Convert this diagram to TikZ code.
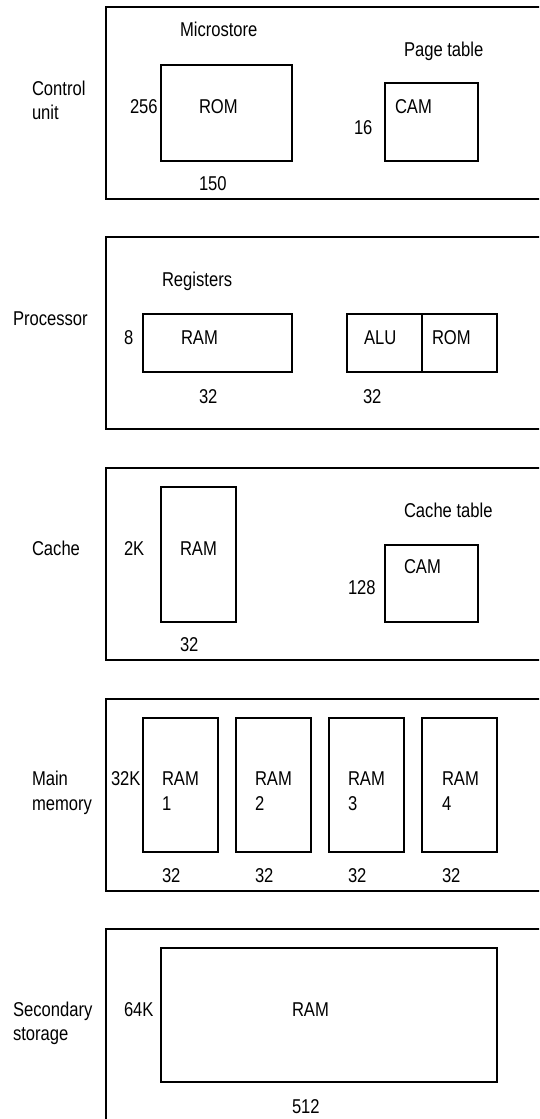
\documentclass[tikz,border=0pt]{standalone}
\usepackage{fontspec}
\setmainfont{Liberation Sans}[FakeStretch=0.83]
\begin{document}
\begin{tikzpicture}[x=1pt,y=-1pt,
  outerbox/.style={draw=black,line width=1.8pt,inner sep=0pt,outer sep=0pt,anchor=north west},
  box/.style={draw=black,line width=1.4pt,inner sep=0pt,outer sep=0pt,anchor=north west},
  lbl/.style={inner sep=0pt,outer sep=0pt,anchor=base west,font=\fontsize{20}{24}\selectfont}]
\fill[white] (0,0) rectangle (539,1119);
\clip (0,0) rectangle (539,1119);
% ---------- Control unit ----------
\node[outerbox,minimum width=480pt,minimum height=192pt] (cu) at (106,7) {};
\node[lbl] (cuA) at (32,95) {Control};
\node[lbl] (cuB) at (32,119) {unit};
\node[box,minimum width=131pt,minimum height=96pt] (curom) at (161,65) {};
\node[lbl] (cumicro) at (180,36) {Microstore};
\node[lbl] (cu256) at (130,113) {256};
\node[lbl] (curomt) at (199,113) {ROM};
\node[lbl] (cu150) at (199,190) {150};
\node[box,minimum width=93pt,minimum height=78pt] (cucam) at (385,83) {};
\node[lbl] (cupage) at (404,56) {Page table};
\node[lbl] (cucamt) at (395,113) {CAM};
\node[lbl] (cu16) at (354,134) {16};
% ---------- Processor ----------
\node[outerbox,minimum width=480pt,minimum height=192pt] (pr) at (106,237) {};
\node[lbl] (prA) at (13,325) {Processor};
\node[lbl] (prreg) at (162,286) {Registers};
\node[box,minimum width=149pt,minimum height=58pt] (prram) at (143,314) {};
\node[lbl] (pr8) at (124,344) {8};
\node[lbl] (prramt) at (181,344) {RAM};
\node[lbl] (pr32a) at (199,403) {32};
\node[box,minimum width=75pt,minimum height=58pt] (pralu) at (347,314) {};
\node[box,minimum width=75pt,minimum height=58pt] (prrom) at (422,314) {};
\node[lbl] (pralut) at (364,344) {ALU};
\node[lbl] (prromt) at (432,344) {ROM};
\node[lbl] (pr32b) at (363,403) {32};
% ---------- Cache ----------
\node[outerbox,minimum width=480pt,minimum height=192pt] (ca) at (106,468) {};
\node[lbl] (caA) at (32,555) {Cache};
\node[box,minimum width=75pt,minimum height=135pt] (caram) at (161,487) {};
\node[lbl] (ca2k) at (124,555) {2K};
\node[lbl] (caramt) at (180,555) {RAM};
\node[lbl] (ca32) at (180,651) {32};
\node[box,minimum width=93pt,minimum height=77pt] (cacam) at (385,545) {};
\node[lbl] (catable) at (404,517) {Cache table};
\node[lbl] (cacamt) at (404,573) {CAM};
\node[lbl] (ca128) at (348,594) {128};
% ---------- Main memory ----------
\node[outerbox,minimum width=480pt,minimum height=192pt] (mm) at (106,699) {};
\node[lbl] (mmA) at (32,785) {Main};
\node[lbl] (mmB) at (32,810) {memory};
\node[lbl] (mm32k) at (111,785) {32K};
\node[box,minimum width=75pt,minimum height=134pt] (mmr1) at (143,718) {};
\node[box,minimum width=75pt,minimum height=134pt] (mmr2) at (236,718) {};
\node[box,minimum width=75pt,minimum height=134pt] (mmr3) at (329,718) {};
\node[box,minimum width=75pt,minimum height=134pt] (mmr4) at (422,718) {};
\node[lbl] (mmr1a) at (162,785) {RAM};
\node[lbl] (mmr1b) at (162,810) {1};
\node[lbl] (mmr2a) at (255,785) {RAM};
\node[lbl] (mmr2b) at (255,810) {2};
\node[lbl] (mmr3a) at (348,785) {RAM};
\node[lbl] (mmr3b) at (348,810) {3};
\node[lbl] (mmr4a) at (442,785) {RAM};
\node[lbl] (mmr4b) at (442,810) {4};
\node[lbl] (mm32a) at (162,882) {32};
\node[lbl] (mm32b) at (255,882) {32};
\node[lbl] (mm32c) at (348,882) {32};
\node[lbl] (mm32d) at (442,882) {32};
% ---------- Secondary storage ----------
\node[outerbox,minimum width=480pt,minimum height=220pt] (ss) at (106,929) {};
\node[lbl] (ssA) at (13,1016) {Secondary};
\node[lbl] (ssB) at (13,1040) {storage};
\node[box,minimum width=336pt,minimum height=134pt] (ssram) at (161,948) {};
\node[lbl] (ss64k) at (124,1016) {64K};
\node[lbl] (ssramt) at (292,1016) {RAM};
\node[lbl] (ss512) at (292,1113) {512};
\end{tikzpicture}
\end{document}
